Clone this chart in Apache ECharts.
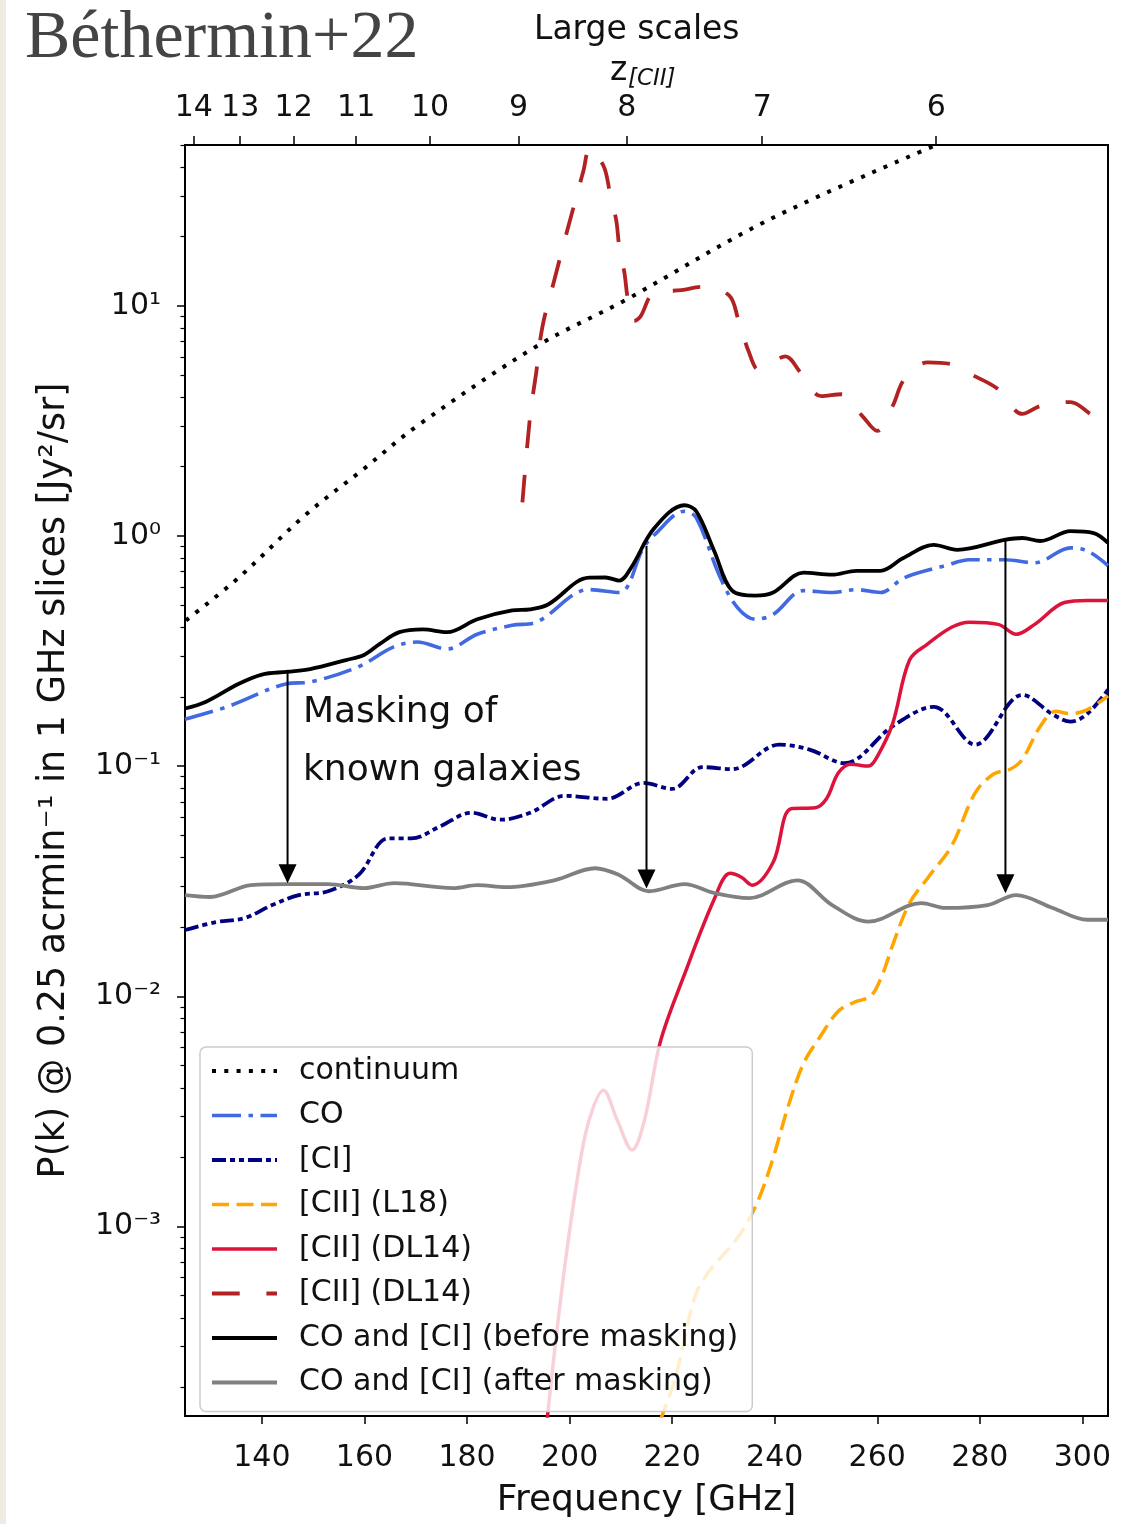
<!DOCTYPE html>
<html>
<head>
<meta charset="utf-8">
<title>Béthermin+22 – large-scale power spectra</title>
<script src="https://cdn.jsdelivr.net/npm/echarts@6/dist/echarts.min.js"></script>
<style>
  html, body { margin: 0; padding: 0; background: #ffffff; }
  #chart { width: 1134px; height: 1524px; }
</style>
</head>
<body>
<div id="chart"></div>
<script>
// ---- axis ticks ---------------------------------------------------------
const freqTicks = [140, 160, 180, 200, 220, 240, 260, 280, 300];
const zTicks = [14, 13, 12, 11, 10, 9, 8, 7, 6];
const yTickValues = [1e-3, 1e-2, 1e-1, 1, 10];
const yTickLabels = ['10⁻³', '10⁻²', '10⁻¹', '10⁰', '10¹'];
const CII_REST_GHZ = 1900.537;

// ---- power spectra: [frequency GHz, P(k) Jy^2/sr] ------------------------
const continuum = [
  [125.2, 0.43], [135.5, 0.66], [148.4, 1.23], [159.9, 1.96], [170.3, 3.01],
  [193.5, 6.66], [210.9, 10.6], [238.6, 23.5], [271.5, 50]
];
const coLines = [
  [125, 0.160], [133.2, 0.181], [144.9, 0.228], [149.4, 0.232], [158.8, 0.270],
  [165.6, 0.329], [170.3, 0.346], [176.1, 0.323], [182, 0.374], [188.8, 0.409],
  [193.5, 0.422], [203.8, 0.585], [209.7, 0.568], [214.4, 0.888], [216.5, 1.01],
  [222.4, 1.28], [224.7, 1.20], [229.4, 0.659], [232.7, 0.49], [236.2, 0.435],
  [239.7, 0.456], [245.6, 0.579], [251.2, 0.568], [255.9, 0.585], [260.6, 0.568],
  [265.3, 0.659], [273.3, 0.743], [278, 0.788], [284.8, 0.788], [290.7, 0.765],
  [297.7, 0.888], [301, 0.861], [305, 0.743]
];
const ciLines = [
  [125, 0.0194], [131, 0.0210], [136.7, 0.0219], [142, 0.0249], [147.2, 0.0275],
  [152.9, 0.0286], [158.8, 0.0336], [164.6, 0.0485], [169.1, 0.0485], [175, 0.0551],
  [180.8, 0.0627], [186.5, 0.0585], [192.3, 0.0627], [199.1, 0.0743], [207.3, 0.0721],
  [214.4, 0.0845], [220, 0.0796], [225.9, 0.0990], [231.7, 0.0971], [240.9, 0.124],
  [246.8, 0.118], [253.6, 0.103], [263, 0.149], [271, 0.181], [279.1, 0.124],
  [288.3, 0.204], [294.2, 0.168], [297.7, 0.156], [301, 0.169], [305, 0.215]
];
const ciiL18 = [
  [217.7, 1.44e-4], [220.6, 2.19e-4], [224.5, 4.99e-4], [227.4, 6.46e-4], [230.6, 7.80e-4],
  [233.5, 9.42e-4], [236.6, 1.27e-3], [239.5, 1.92e-3], [242.7, 3.36e-3], [245.6, 5.09e-3],
  [248.7, 6.59e-3], [252.4, 8.61e-3], [255.5, 9.42e-3], [258.7, 0.0100], [260.8, 0.0121],
  [263.1, 0.0169], [266.3, 0.0254], [270, 0.033], [274.5, 0.045], [279.1, 0.0765],
  [282.7, 0.0924], [286, 0.0971], [288.3, 0.107], [291.8, 0.149], [294.8, 0.173],
  [297.7, 0.169], [301, 0.176], [305, 0.202]
];
const ciiDL14 = [
  [195.4, 1.3e-4], [198.6, 5.57e-4], [201.7, 1.71e-3], [203.8, 2.89e-3], [206.6, 3.90e-3],
  [209.3, 2.89e-3], [212.2, 2.15e-3], [214.6, 2.89e-3], [217.7, 6.34e-3], [222.2, 0.0121],
  [228.2, 0.0264], [231.3, 0.0342], [233.5, 0.0329], [235.6, 0.0304], [239.7, 0.0382],
  [243.2, 0.0653], [247.9, 0.0659], [250.1, 0.0721], [252.4, 0.0933], [254.8, 0.102],
  [258.3, 0.100], [260, 0.110], [263, 0.153], [266.3, 0.289], [269.8, 0.339],
  [274.5, 0.401], [278, 0.422], [283.6, 0.413], [287.1, 0.374], [290.7, 0.413],
  [296.5, 0.514], [301, 0.525], [305, 0.525]
];
const ciiDL14Total = [
  [190.8, 1.40], [192.3, 3.32], [193.5, 5.14], [194.7, 8.11], [197, 12.9],
  [199.7, 21.9], [202.7, 38.6], [203.9, 48.5], [205, 46], [206.8, 39.7],
  [207.9, 30.7], [209.1, 23.5], [209.7, 18.0], [210.7, 13.9], [211.4, 10.6],
  [212.6, 8.6], [213.8, 8.97], [216.5, 11.4], [221.8, 11.7], [225.9, 12.1],
  [231.1, 11.1], [232.9, 8.71], [235, 6.27], [236.8, 5.30], [239, 5.6],
  [242.1, 6.03], [245, 5.14], [249.1, 4.05], [253, 4.13], [257.1, 3.32],
  [260, 2.86], [263, 3.67], [265.3, 4.80], [269.8, 5.68], [274.5, 5.57],
  [279.1, 4.94], [283.6, 4.34], [288.3, 3.39], [291.8, 3.67], [297.7, 3.82],
  [301.6, 3.39], [304.5, 3.13]
];
const beforeMasking = [
  [125, 0.178], [129, 0.19], [135.5, 0.228], [140, 0.25], [144.9, 0.257],
  [149.4, 0.264], [156.4, 0.289], [159.9, 0.304], [163, 0.34], [166.8, 0.382],
  [171.4, 0.393], [176.1, 0.382], [182, 0.435], [188.8, 0.475], [192.3, 0.480],
  [195.8, 0.504], [203.8, 0.659], [207, 0.66], [209.7, 0.640], [212, 0.728],
  [216.5, 1.08], [222.4, 1.36], [224.7, 1.28], [228.2, 0.861], [231.7, 0.579],
  [236.2, 0.551], [239.7, 0.568], [245.6, 0.693], [251.2, 0.679], [255.9, 0.706],
  [260.6, 0.706], [265, 0.80], [271, 0.915], [275.6, 0.871], [284.8, 0.961],
  [288.3, 0.98], [291.8, 0.951], [297.7, 1.05], [302.2, 1.03], [305, 0.933]
];
const afterMasking = [
  [125, 0.0275], [129.9, 0.0270], [137.9, 0.0304], [144.9, 0.0307], [152.9, 0.0307],
  [159.9, 0.0295], [165.8, 0.0310], [177.3, 0.0295], [182, 0.0304], [187.6, 0.0298],
  [197, 0.0319], [205, 0.0360], [209.7, 0.0336], [215.5, 0.0286], [222.4, 0.0307],
  [228.2, 0.0281], [235, 0.0267], [244.4, 0.0319], [251.2, 0.0249], [258.3, 0.0211],
  [268.6, 0.0254], [273.3, 0.0242], [281.5, 0.0249], [287.1, 0.0275], [294.2, 0.0242],
  [301, 0.0215], [305, 0.0215]
];
// masking arrows: [frequency, P before masking, P after masking]
const maskArrows = [
  [145, 0.262, 0.031],
  [215, 0.905, 0.0294],
  [285, 0.96, 0.028]
];

// ---- derived axis helpers ------------------------------------------------
const zFreqs = zTicks.map(z => CII_REST_GHZ / (1 + z));
const minorY = [];
for (let e = -4; e <= 1; e++) {
  for (let m = 2; m <= 9; m++) {
    const v = m * Math.pow(10, e);
    if (v >= 1.5e-4 && v <= 50) minorY.push(v);
  }
}
const FONT = 'DejaVu Sans';

const chart = echarts.init(document.getElementById('chart'), null, { renderer: 'canvas' });

function lineSeries(name, data, color, width, dash, z) {
  return {
    name: name,
    type: 'line',
    data: data,
    xAxisIndex: 0,
    yAxisIndex: 0,
    symbol: 'none',
    smooth: 0.35,
    clip: true,
    z: z,
    itemStyle: { color: color },
    lineStyle: { color: color, width: width, type: dash, cap: 'butt', join: 'round' },
    emphasis: { disabled: true }
  };
}

const option = {
  animation: false,
  backgroundColor: '#ffffff',
  textStyle: { fontFamily: FONT },
  grid: {
    left: 185, right: 26, top: 145, bottom: 97,
    show: true, borderColor: '#000000', borderWidth: 2, backgroundColor: 'transparent'
  },
  xAxis: [
    {
      type: 'value', min: 125, max: 305, position: 'bottom',
      axisLine: { show: true, lineStyle: { color: '#000', width: 2 } },
      axisTick: { show: true, customValues: freqTicks, length: 8, lineStyle: { color: '#000', width: 1.5 } },
      axisLabel: { customValues: freqTicks, margin: 27, fontSize: 30, color: '#111', fontFamily: FONT },
      splitLine: { show: false },
      name: 'Frequency [GHz]', nameLocation: 'middle', nameGap: 67,
      nameTextStyle: { fontSize: 36, color: '#111', fontFamily: FONT }
    },
    {
      type: 'value', min: 125, max: 305, position: 'top',
      axisLine: { show: true, lineStyle: { color: '#000', width: 2 } },
      axisTick: { show: true, customValues: zFreqs, length: 9, lineStyle: { color: '#000', width: 1.5 } },
      axisLabel: {
        customValues: zFreqs, margin: 22, fontSize: 30, color: '#111', fontFamily: FONT,
        formatter: v => String(Math.round(CII_REST_GHZ / v - 1))
      },
      splitLine: { show: false }
    }
  ],
  yAxis: [
    {
      type: 'log', logBase: 10, min: 1.5e-4, max: 50, position: 'left',
      axisLine: { show: true, lineStyle: { color: '#000', width: 2 } },
      axisTick: { show: true, customValues: yTickValues, length: 8, lineStyle: { color: '#000', width: 1.5 } },
      axisLabel: {
        customValues: yTickValues, margin: 24, fontSize: 30, color: '#111', fontFamily: FONT,
        formatter: v => {
          const i = yTickValues.findIndex(t => Math.abs(Math.log10(t) - Math.log10(v)) < 1e-6);
          return i >= 0 ? yTickLabels[i] : '';
        }
      },
      splitLine: { show: false },
      name: 'P(k) @ 0.25 acrmin⁻¹ in 1 GHz slices [Jy²/sr]',
      nameLocation: 'middle', nameRotate: 90, nameGap: 112,
      nameTextStyle: { fontSize: 36.5, color: '#111', fontFamily: FONT }
    },
    {
      type: 'log', logBase: 10, min: 1.5e-4, max: 50, position: 'left',
      axisLine: { show: false },
      axisTick: { show: true, customValues: minorY, length: 4.5, lineStyle: { color: '#000', width: 1.2 } },
      axisLabel: { show: false },
      splitLine: { show: false }
    }
  ],
  legend: {
    orient: 'vertical',
    left: 200, top: 1047,
    z: 20,
    data: ['continuum', 'CO', '[CI]', '[CII] (L18)', '[CII] (DL14)', '[CII] (DL14) ',
           'CO and [CI] (before masking)', 'CO and [CI] (after masking)'],
    itemWidth: 65, itemHeight: 14, itemGap: 12.5,
    padding: [8, 14, 13, 10],
    backgroundColor: 'rgba(255,255,255,0.8)',
    borderColor: '#cccccc', borderWidth: 1.5, borderRadius: 6,
    selectedMode: false,
    itemStyle: { color: 'rgba(0,0,0,0)', borderWidth: 0, opacity: 0 },
    lineStyle: { width: 'inherit' },
    textStyle: { fontSize: 30, lineHeight: 32, color: '#111', fontFamily: FONT, padding: [0, 0, 0, 17] }
  },
  graphic: [
    { type: 'rect', left: 0, top: 0, shape: { width: 6, height: 1524 }, style: { fill: '#eeebe3' }, silent: true },
    { type: 'text', left: 25, top: 5,
      style: { text: 'Béthermin+22', font: '68px "Liberation Serif", "DejaVu Serif", serif', fill: '#444444' } },
    { type: 'text', left: 534, top: 14,
      style: { text: 'Large scales', font: '33px "DejaVu Sans"', fill: '#111' } },
    { type: 'text', left: 610, top: 55,
      style: { text: 'z', font: '33px "DejaVu Sans"', fill: '#111' } },
    { type: 'text', left: 628, top: 68,
      style: { text: '[CII]', font: 'italic 23px "DejaVu Sans"', fill: '#111' } },
    { type: 'text', left: 303, top: 684,
      style: { text: 'Masking of\nknown galaxies', font: '36px "DejaVu Sans"', lineHeight: 58, fill: '#111' } }
  ],
  series: [
    lineSeries('continuum', continuum, '#000000', 4, [4, 8.3], 2),
    lineSeries('CO', coLines, '#4169e1', 3.6, [29, 7.5, 4.5, 7.5], 3),
    lineSeries('[CI]', ciLines, '#000080', 3.8, [14, 4, 5, 4, 5, 4], 4),
    lineSeries('[CII] (L18)', ciiL18, '#ffa500', 3.5, [17, 7.5], 5),
    lineSeries('[CII] (DL14)', ciiDL14, '#dc143c', 3.5, 'solid', 6),
    lineSeries('[CII] (DL14) ', ciiDL14Total, '#b22222', 3.8, [27.7, 26.7], 7),
    lineSeries('CO and [CI] (before masking)', beforeMasking, '#000000', 3.8, 'solid', 8),
    lineSeries('CO and [CI] (after masking)', afterMasking, '#808080', 3.8, 'solid', 9),
    {
      name: 'masking',
      type: 'custom',
      xAxisIndex: 0, yAxisIndex: 0,
      data: maskArrows,
      encode: { x: 0, y: [1, 2] },
      z: 10,
      silent: true,
      renderItem: function (params, api) {
        const x = api.value(0);
        const top = api.coord([x, api.value(1)]);
        const tip = api.coord([x, api.value(2)]);
        const hw = 9, hl = 19;
        return {
          type: 'group',
          children: [
            { type: 'line', shape: { x1: top[0], y1: top[1], x2: tip[0], y2: tip[1] - hl + 1 },
              style: { stroke: '#000', lineWidth: 2 } },
            { type: 'polygon',
              shape: { points: [[tip[0] - hw, tip[1] - hl], [tip[0] + hw, tip[1] - hl], [tip[0], tip[1]]] },
              style: { fill: '#000' } }
          ]
        };
      }
    }
  ]
};

chart.setOption(option);
</script>
</body>
</html>
